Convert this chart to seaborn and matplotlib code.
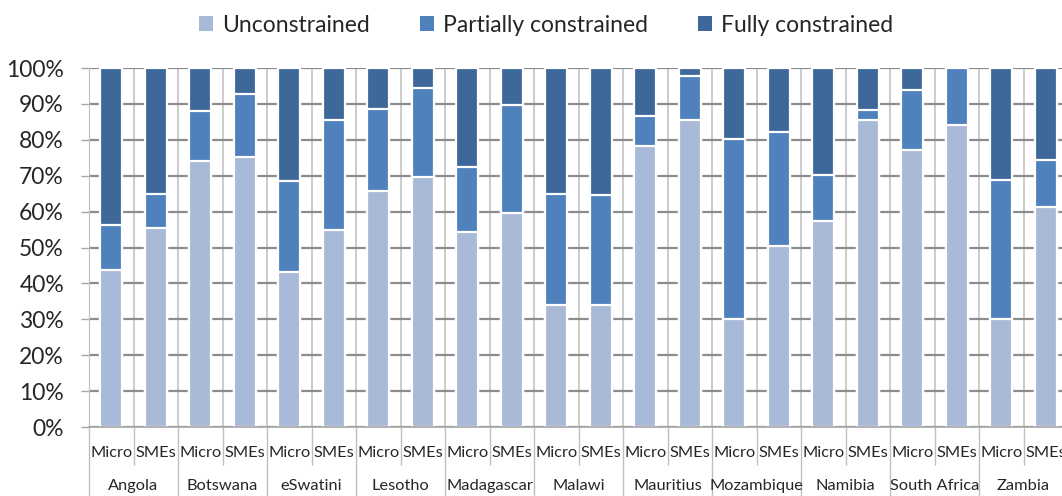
import numpy as np
import pandas as pd
import matplotlib
matplotlib.use("Agg")
import matplotlib.pyplot as plt
import matplotlib.transforms as mtrans
from matplotlib.patches import Patch
import seaborn as sns

# --- DATA (percent of firms) ---
countries = ["Angola", "Botswana", "eSwatini", "Lesotho", "Madagascar", "Malawi",
             "Mauritius", "Mozambique", "Namibia", "South Africa", "Zambia"]
firm_types = ["Micro", "SMEs"]

unconstrained = [43.7, 55.3, 74.0, 75.3, 43.3, 54.9, 65.6, 69.5, 54.4, 59.7, 34.0,
                 34.1, 78.4, 85.6, 30.2, 50.4, 57.5, 85.6, 77.2, 84.2, 30.2, 61.2]
partially = [12.6, 9.5, 13.9, 17.4, 25.1, 30.7, 23.0, 24.9, 18.0, 29.9, 30.9,
             30.4, 8.3, 12.3, 50.0, 31.9, 12.7, 2.8, 16.6, 15.8, 38.5, 13.2]
fully = [43.7, 35.2, 12.1, 7.3, 31.6, 14.4, 11.4, 5.6, 27.6, 10.4, 35.1,
         35.5, 13.3, 2.1, 19.8, 17.7, 29.8, 11.6, 6.2, 0.0, 31.3, 25.6]

COLORS = {"Unconstrained": "#A9B9D8", "Partially constrained": "#4F81BD",
          "Fully constrained": "#3E6899"}
FONT = ["Lato", "DejaVu Sans"]

df = pd.DataFrame({
    "slot": np.arange(len(unconstrained)),
    "country": np.repeat(countries, 2),
    "type": firm_types * len(countries),
    "unc": unconstrained,
    "part": partially,
    "full": fully,
})
df["top_part"] = df["unc"] + df["part"]
df["top_full"] = df["top_part"] + df["full"]

sns.set_style("white")
plt.rcParams["font.family"] = FONT

fig = plt.figure(figsize=(10.62, 4.96), dpi=100)
ax = fig.add_axes([89 / 1062, 69 / 496, 979 / 1062, 359 / 496])

# back-to-front stacking
for col, name in [("top_full", "Fully constrained"),
                  ("top_part", "Partially constrained"),
                  ("unc", "Unconstrained")]:
    sns.barplot(data=df, x="slot", y=col, color=COLORS[name], width=0.5,
                edgecolor="white", linewidth=1.6, saturation=1, ax=ax,
                errorbar=None)

ax.set_xlim(-0.5, len(df) - 0.5)
ax.set_ylim(0, 100)
ax.set_xlabel("")
ax.set_ylabel("")

# y axis
ax.set_yticks(np.arange(0, 101, 10))
ax.set_yticklabels([f"{v}%" for v in range(0, 101, 10)], fontsize=16.5)
ax.tick_params(axis="y", length=6, width=1, color="#a6a6a6", pad=12, left=True)

# x axis: separators as ticks, labels as text
bounds = np.arange(-0.5, len(df), 1.0)
ax.set_xticks(bounds[::2])
ax.set_xticks(bounds[1::2], minor=True)
ax.set_xticklabels([])
ax.tick_params(axis="x", which="major", length=52, width=1, color="#bfbfbf",
               bottom=True, direction="out")
ax.tick_params(axis="x", which="minor", length=27, width=1, color="#bfbfbf",
               bottom=True, direction="out")

ax.grid(axis="y", which="major", color="#8c8c8c", linewidth=1.6)
ax.grid(axis="x", which="both", color="#c4c4c4", linewidth=1.2)
ax.set_axisbelow(True)

for side in ["top", "right"]:
    ax.spines[side].set_visible(False)
ax.spines["left"].set_color("#bfbfbf")
ax.spines["bottom"].set_color("#a6a6a6")
ax.spines["bottom"].set_linewidth(1.2)

trans = mtrans.blended_transform_factory(ax.transData, ax.transAxes)
for i, t in enumerate(df["type"]):
    ax.text(i, -26 / 359, t, transform=trans, ha="center", va="center",
            fontsize=11.8, clip_on=False)
for j, c in enumerate(countries):
    ax.text(2 * j + 0.5, -59 / 359, c, transform=trans, ha="center",
            va="center", fontsize=11.8, clip_on=False)

handles = [Patch(facecolor=COLORS[n], edgecolor="none") for n in COLORS]
fig.legend(handles, list(COLORS), loc="center", bbox_to_anchor=(546 / 1062, 1 - 25 / 496),
           ncol=3, frameon=False, fontsize=16.5, handlelength=0.6, handleheight=0.6,
           handletextpad=0.4, columnspacing=2.2)

fig.savefig("out.png", dpi=100)
